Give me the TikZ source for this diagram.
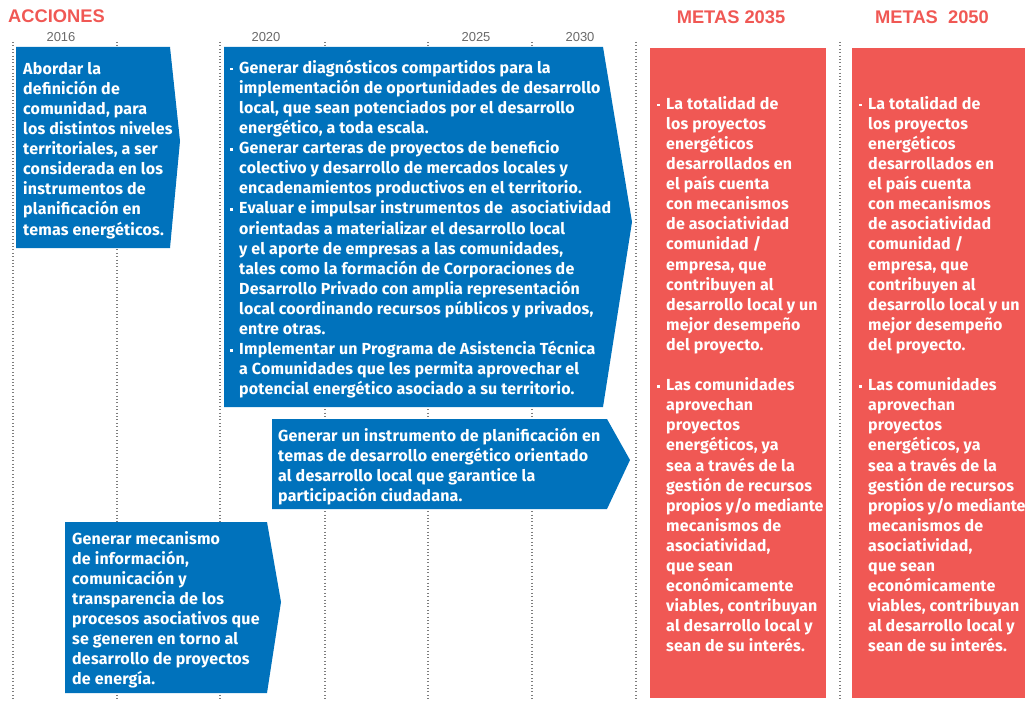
\documentclass[tikz,border=0pt]{standalone}
\usepackage{fontspec}
\setmainfont{Fira Sans}[LetterSpace=1.2]
\newfontfamily\arialf{Liberation Sans}
\definecolor{cblue}{RGB}{0,114,188}
\definecolor{cred}{RGB}{240,88,84}
\definecolor{cgray}{RGB}{105,105,105}
\definecolor{cdot}{RGB}{125,125,125}
\newcommand{\mybul}{\makebox[9pt][l]{\rule[3pt]{2.7pt}{2.7pt}}}
\newcommand{\myind}{\hspace*{9pt}}
\newcommand{\fst}{\rule{0pt}{14pt}}
\tikzset{
  vline/.style={draw=cdot, line width=1.1pt, dash pattern=on 1pt off 2.4pt},
  bluebox/.style={fill=cblue, draw=none},
  redbox/.style={fill=cred, draw=none},
  boxtext/.style={anchor=north west, inner sep=0pt, align=left, text=white,
    font=\fontsize{16}{20.1}\selectfont\bfseries},
  headtext/.style={anchor=west, inner sep=0pt, text=cred, font=\arialf\fontsize{18.3}{20}\selectfont\bfseries},
  yeartext/.style={anchor=center, inner sep=0pt, text=cgray, font=\arialf\fontsize{13}{15}\selectfont}
}
\begin{document}
\begin{tikzpicture}[x=1pt,y=-1pt]
\path[use as bounding box] (0,0) rectangle (1025,701);
% dotted grid
\foreach \xx in {13,117,220,325,428,532,636,840} \draw[vline] (\xx,42) -- (\xx,700);
% headings
\node[headtext] (acc) at (8,16) {ACCIONES};
\node[headtext, anchor=center] (m35) at (731,17) {METAS 2035};
\node[headtext, anchor=center] (m50) at (932,17) {METAS\ \ 2050};
\node[yeartext] (y16) at (61,37) {2016};
\node[yeartext] (y20) at (266,37) {2020};
\node[yeartext] (y25) at (476,37) {2025};
\node[yeartext] (y30) at (580,37) {2030};
% blue boxes
\fill[bluebox] (16,47) -- (170,47) -- (180,141) -- (170,248) -- (16,248) -- cycle;
\fill[bluebox] (224,47) -- (603,47) -- (632,222) -- (603,407) -- (224,407) -- cycle;
\fill[bluebox] (272,419) -- (607,419) -- (630,460) -- (607,509) -- (272,509) -- cycle;
\fill[bluebox] (65,522) -- (267,522) -- (281,602) -- (267,693) -- (65,693) -- cycle;
% red boxes
\fill[redbox] (650,48) rectangle (826,698);
\fill[redbox] (852,48) rectangle (1025,698);
% texts
\node[boxtext] (ta) at (23,60) {\fst Abordar la\\ definición de\\ comunidad, para\\ los distintos niveles\\ territoriales, a ser\\ considerada en los\\ instrumentos de\\ planificación en\\ temas energéticos.};
\node[boxtext] (tb) at (230,59) {\fst\mybul Generar diagnósticos compartidos para la\\
\myind implementación de oportunidades de desarrollo\\
\myind local, que sean potenciados por el desarrollo\\
\myind energético, a toda escala.\\
\mybul Generar carteras de proyectos de beneficio\\
\myind colectivo y desarrollo de mercados locales y\\
\myind encadenamientos productivos en el territorio.\\
\mybul Evaluar e impulsar instrumentos de\ \ asociatividad\\
\myind orientadas a materializar el desarrollo local\\
\myind y el aporte de empresas a las comunidades,\\
\myind tales como la formación de Corporaciones de\\
\myind Desarrollo Privado con amplia representación\\
\myind local coordinando recursos públicos y privados,\\
\myind entre otras.\\
\mybul Implementar un Programa de Asistencia Técnica\\
\myind a Comunidades que les permita aprovechar el\\
\myind potencial energético asociado a su territorio.};
\node[boxtext] (tc) at (278,427) {\fst Generar un instrumento de planificación en\\ temas de desarrollo energético orientado\\ al desarrollo local que garantice la\\ participación ciudadana.};
\node[boxtext] (td) at (72,530) {\fst Generar mecanismo\\ de información,\\ comunicación y\\ transparencia de los\\ procesos asociativos que\\ se generen en torno al\\ desarrollo de proyectos\\ de energía.};
\foreach \nm/\xx in {r35/657, r50/859}{
\node[boxtext] (\nm) at (\xx,95) {\fst\mybul La totalidad de\\
\myind los proyectos\\
\myind energéticos\\
\myind desarrollados en\\
\myind el país cuenta\\
\myind con mecanismos\\
\myind de asociatividad\\
\myind comunidad /\\
\myind empresa, que\\
\myind contribuyen al\\
\myind desarrollo local y un\\
\myind mejor desempeño\\
\myind del proyecto.\\[20.1pt]
\mybul Las comunidades\\
\myind aprovechan\\
\myind proyectos\\
\myind energéticos, ya\\
\myind sea a través de la\\
\myind gestión de recursos\\
\myind {\addfontfeature{LetterSpace=-0.2}propios y/o mediante}\\
\myind mecanismos de\\
\myind asociatividad,\\
\myind que sean\\
\myind económicamente\\
\myind viables, contribuyan\\
\myind al desarrollo local y\\
\myind sean de su interés.};
}
\end{tikzpicture}
\end{document}
